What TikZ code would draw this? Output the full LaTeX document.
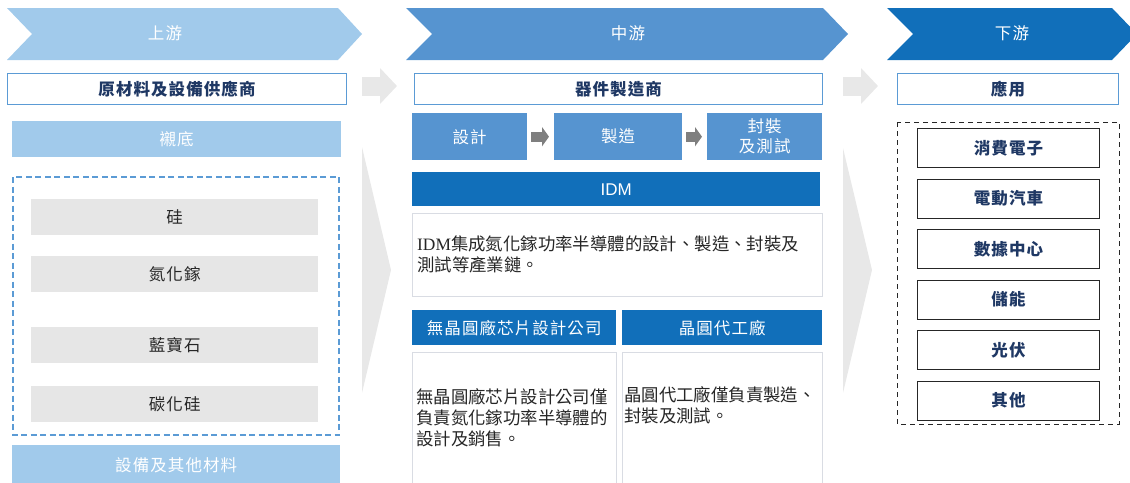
\documentclass[tikz,border=0pt]{standalone}
\usepackage{fontspec}
\newfontfamily\cjk{Noto Sans CJK TC}
\newfontfamily\cjklbl[LetterSpace=6.5]{Noto Sans CJK TC}
\newfontfamily\latinserif{Liberation Serif}
\newfontfamily\latinsans{Liberation Sans}
\usetikzlibrary{positioning,arrows.meta}
\definecolor{upblue}{HTML}{A1CAEB}
\definecolor{midblue}{HTML}{5694D0}
\definecolor{downblue}{HTML}{116FBA}
\definecolor{boxline}{HTML}{5B9BD5}
\definecolor{navy}{HTML}{1F3864}
\definecolor{matgray}{HTML}{E6E6E6}
\definecolor{bggray}{HTML}{E8E8E8}
\definecolor{arrowgray}{HTML}{7F7F7F}
\definecolor{descline}{HTML}{D9DCE3}
\definecolor{darktext}{HTML}{262626}
\tikzset{
  lbl/.style={font=\cjklbl\fontsize{16.5}{20}\selectfont},
  chevtxt/.style={lbl,text=white},
  blockbox/.style={lbl,inner sep=0pt,anchor=north west,align=center},
  headbox/.style={blockbox,draw=boxline,line width=1pt,fill=white,text=navy,font=\cjklbl\bfseries\fontsize{16.5}{20}\selectfont,minimum height=31pt},
  upbox/.style={blockbox,fill=upblue,text=white,minimum width=329pt,minimum height=36pt},
  matbox/.style={blockbox,fill=matgray,text=darktext,minimum width=287pt,minimum height=36pt},
  stepbox/.style={blockbox,fill=midblue,text=white,minimum height=47pt},
  idmhead/.style={blockbox,fill=downblue,text=white,minimum height=35pt},
  descbox/.style={anchor=north west,draw=descline,fill=white,text=darktext,align=left,font=\cjk\fontsize{17.4}{21}\selectfont},
  appbox/.style={blockbox,draw=darktext,line width=1pt,fill=white,text=navy,font=\cjklbl\bfseries\fontsize{16.5}{20}\selectfont,minimum width=182pt,minimum height=39pt},
  bigarrow/.style={draw=bggray,line width=19pt,-{Triangle[length=17pt,width=35pt]}},
  steparrow/.style={draw=arrowgray,line width=10pt,-{Triangle[length=7pt,width=19pt]},shorten <=4pt,shorten >=5pt}
}
\begin{document}
\begin{tikzpicture}[x=1pt,y=-1pt]
\useasboundingbox (0,0) rectangle (1130,482);
\clip (0,0) rectangle (1130,482);
\fill[upblue] (7,8) -- (338,8) -- (362,34) -- (338,60) -- (7,60) -- (32,34) -- cycle;
\fill[midblue] (406,8) -- (823,8) -- (848,34) -- (823,60) -- (406,60) -- (432,34) -- cycle;
\fill[downblue] (887,8) -- (1112,8) -- (1137,34) -- (1112,60) -- (887,60) -- (913,34) -- cycle;
\node[chevtxt] (up) at (165,33) {上游}; \node[chevtxt] (mid) at (628,33) {中游}; \node[chevtxt] (down) at (1012,33) {下游};
\fill[bggray] (362,147) -- (391,270) -- (362,393) -- cycle;
\fill[bggray] (843,148) -- (872,270) -- (843,393) -- cycle;
\node[headbox,minimum width=339pt] (src) at (7,73) {原材料及設備供應商};
\node[headbox,minimum width=408pt] (mfr) at (414,73) {器件製造商};
\node[headbox,minimum width=221pt] (use) at (897,73) {應用};
\draw[bigarrow,shorten <=15pt,shorten >=17pt] ([yshift=3pt]src.east) -- ([yshift=3pt]mfr.west);
\draw[bigarrow,shorten <=20pt,shorten >=19pt] ([yshift=3pt]mfr.east) -- ([yshift=3pt]use.west);
\node[upbox] (sub) at (12,121) {襯底};
\draw[draw=boxline,line width=1.2pt,dash pattern=on 6pt off 3.5pt] (13,177) rectangle (339,435);
\node[matbox] (si) at (31,199) {硅}; \node[matbox] (gan) at (31,256) {氮化鎵};
\node[matbox] (sapph) at (31,327) {藍寶石}; \node[matbox] (sic) at (31,386) {碳化硅};
\node[upbox,minimum width=328pt,minimum height=40pt] (equip) at (12,445) {設備及其他材料};
\node[stepbox,minimum width=115pt] (design) at (412,113) {設計};
\node[stepbox,minimum width=128pt] (make) at (554,113) {製造};
\node[stepbox,minimum width=115pt] (pack) at (707,113) {封裝\\及測試};
\draw[steparrow] (design) -- (make); \draw[steparrow] (make) -- (pack);
\node[idmhead,minimum width=408pt,minimum height=34pt,font=\latinsans\fontsize{17}{20}\selectfont] (idm) at (412,172) {IDM};
\node[descbox,text width=400pt,inner xsep=5pt,minimum height=83pt] (idmtxt) at (412,213) {{\latinserif IDM}集成氮化鎵功率半導體的設計、製造、封裝及\\測試等產業鏈。};
\node[idmhead,minimum width=204pt] (fabless) at (412,310) {無晶圓廠芯片設計公司};
\node[idmhead,minimum width=200pt] (foundry) at (622,310) {晶圓代工廠};
\node[descbox,text width=196pt,inner xsep=4pt,minimum height=132pt] (fabtxt) at (412,352) {無晶圓廠芯片設計公司僅\\負責氮化鎵功率半導體的\\設計及銷售。};
\node[descbox,text width=196pt,inner xsep=2pt,minimum height=132pt] (fndtxt) at (622,352) {晶圓代工廠僅負責製造、\\封裝及測試。\\\strut};
\draw[draw=black!85,line width=1pt,dash pattern=on 5pt off 4pt] (897,122) rectangle (1119,424);
\node[appbox] (a1) at (917,128) {消費電子};
\node[appbox,below=10.5pt of a1] (a2) {電動汽車};
\node[appbox,below=10.5pt of a2] (a3) {數據中心};
\node[appbox,below=10.5pt of a3] (a4) {儲能};
\node[appbox,below=10.5pt of a4] (a5) {光伏};
\node[appbox,below=10.5pt of a5] (a6) {其他};
\end{tikzpicture}
\end{document}
